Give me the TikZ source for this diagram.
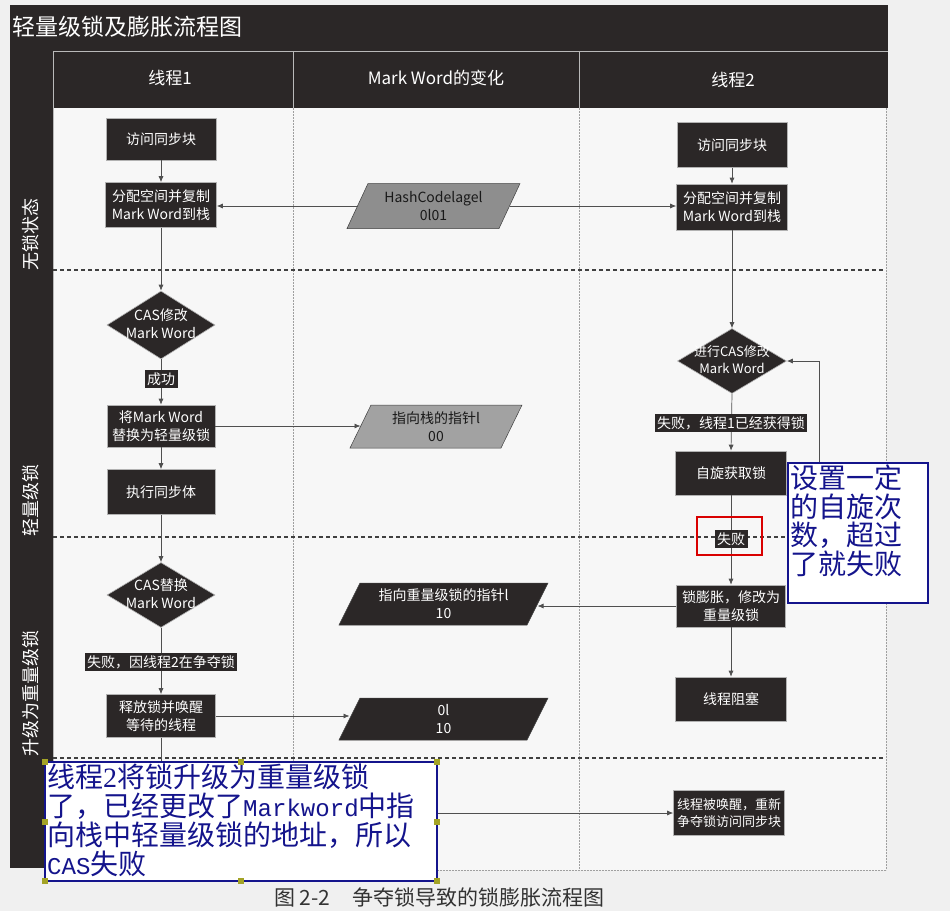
\documentclass[tikz,border=0pt]{standalone}
\usepackage{fontspec}
\setmainfont{Noto Sans CJK SC}
\newfontfamily\lmono[Scale=0.86]{Liberation Mono}
\newfontfamily\lserif{Liberation Serif}
\usetikzlibrary{arrows.meta,shapes.geometric,calc}
\definecolor{dk}{HTML}{2B2727}
\definecolor{pagebg}{HTML}{F0F0F0}
\definecolor{bodybg}{HTML}{F7F7F7}
\definecolor{ln}{HTML}{505050}
\definecolor{navy}{HTML}{14148C}
\definecolor{handle}{HTML}{A3A326}
\definecolor{pglight}{HTML}{8E8E8E}
\definecolor{pgmid}{HTML}{A2A2A2}
\definecolor{captxt}{HTML}{333333}
\tikzset{
  box/.style={draw=gray!60, line width=0.6pt, fill=dk, text=white, align=center,
    inner sep=0pt, font=\fontsize{14}{18}\selectfont},
  dia/.style={diamond, draw=gray!60, line width=0.6pt, fill=dk, inner sep=0pt},
  dtxt/.style={text=white, align=center, inner sep=0pt, font=\fontsize{14}{18}\selectfont},
  lbl/.style={fill=dk, text=white, inner sep=2.5pt, font=\fontsize{14}{16}\selectfont},
  pgt/.style={align=center, inner sep=0pt, font=\fontsize{14}{18}\selectfont},
  arr/.style={draw=ln, line width=0.7pt, -{Latex[length=6pt,width=5pt]}},
  hdr/.style={text=white, font=\fontsize{17}{20}\selectfont},
  strip/.style={text=white, rotate=90, font=\fontsize{18}{20}\selectfont},
  sep/.style={draw=black!75, line width=2pt, dash pattern=on 4pt off 3pt},
  colline/.style={draw=gray!75, line width=0.6pt, dash pattern=on 2pt off 1pt},
  note/.style={draw=navy, line width=1.6pt, fill=white},
  notetxt/.style={text=navy, align=left, inner sep=1pt, anchor=north west,
    font=\fontsize{28}{28.5}\selectfont},
}
\newcommand\mypgram[8]{%
  \fill[#6, draw=gray!50!black, line width=0.5pt] (#2-#4/2+21,#3-#5) -- (#2+#4/2,#3-#5) -- (#2+#4/2-21,#3+#5) -- (#2-#4/2,#3+#5) -- cycle;
  \node[pgt, text=#7] (#1) at (#2,#3) {#8};
  \coordinate (#1-w) at (#2-#4/2+10.5,#3);
  \coordinate (#1-e) at (#2+#4/2-10.5,#3);
}
\begin{document}
\begin{tikzpicture}[x=1pt, y=-1pt]
\useasboundingbox (0,0) rectangle (950,911);
\fill[pagebg] (0,0) rectangle (950,911);
% frame
\fill[dk] (10,5) rectangle (888,108);
\fill[dk] (10,108) rectangle (53,868);
\fill[bodybg] (53,108) rectangle (886,870);
\draw[gray!55, line width=0.6pt] (53,51) -- (888,51);
\draw[gray!55, line width=0.6pt] (53,51) -- (53,868);
\draw[gray!55, line width=0.6pt] (293,51) -- (293,108);
\draw[gray!55, line width=0.6pt] (579,51) -- (579,108);
\draw[colline] (293,108) -- (293,870);
\draw[colline] (579,108) -- (579,870);
\draw[colline] (886,108) -- (886,870);
\draw[colline] (53,870) -- (886,870);
% titles
\node[anchor=west, text=white, inner sep=0pt, font=\fontsize{23}{26}\selectfont] (title) at (12,27) {轻量级锁及膨胀流程图};
\node[hdr] (h1) at (170,78) {线程1};
\node[hdr] (h2) at (436,78) {Mark Word的变化};
\node[hdr] (h3) at (733,80) {线程2};
\node[strip] (s1) at (31,234) {无锁状态};
\node[strip] (s2) at (31,500) {轻量级锁};
\node[strip] (s3) at (31,693) {升级为重量级锁};
% separators
\draw[sep] (53,270) -- (884,270);
\draw[sep] (53,537) -- (884,537);
\draw[sep] (53,758) -- (884,758);
% thread 1
\node[box, minimum width=110pt, minimum height=42pt] (a1) at (161,139) {访问同步块};
\node[box, minimum width=111pt, minimum height=45pt] (a2) at (161,205) {分配空间并复制\\Mark Word到栈};
\node[dia, minimum width=108pt, minimum height=68pt] (d1) at (161,325) {};
\node[dtxt] (d1t) at (161,324) {CAS修改\\Mark Word};
\node[box, minimum width=108pt, minimum height=42pt] (a3) at (161,426) {将Mark Word\\替换为轻量级锁};
\node[box, minimum width=108pt, minimum height=45pt] (a4) at (161,492) {执行同步体};
\node[dia, minimum width=108pt, minimum height=65pt] (d2) at (161,595) {};
\node[dtxt] (d2t) at (161,594) {CAS替换\\Mark Word};
\node[box, minimum width=109pt, minimum height=43pt] (a5) at (161,716) {释放锁并唤醒\\等待的线程};
% mark word column
\mypgram{p1}{433.5}{206}{173}{22.5}{pglight}{black!90}{HashCodelagel\\0l01}
\mypgram{p2}{436}{426.5}{172}{21.5}{pgmid}{black!90}{指向栈的指针l\\00}
\mypgram{p3}{443.5}{604}{209}{21}{dk}{white}{指向重量级锁的指针l\\10}
\mypgram{p4}{443.5}{719}{209}{21}{dk}{white}{0l\\10}
% thread 2
\node[box, minimum width=110pt, minimum height=45pt] (b1) at (732,145) {访问同步块};
\node[box, minimum width=111pt, minimum height=46pt] (b2) at (732,207) {分配空间并复制\\Mark Word到栈};
\node[dia, minimum width=109pt, minimum height=65pt] (d3) at (732,361) {};
\node[dtxt, font=\fontsize{13}{17}\selectfont] (d3t) at (732,360) {进行CAS修改\\Mark Word};
\node[box, minimum width=111pt, minimum height=44pt] (b3) at (731,473) {自旋获取锁};
\node[box, minimum width=109pt, minimum height=42pt] (b4) at (731,606) {锁膨胀，修改为\\重量级锁};
\node[box, minimum width=111pt, minimum height=44pt] (b5) at (731,699) {线程阻塞};
\node[box, minimum width=111pt, minimum height=45pt, font=\fontsize{13}{17}\selectfont] (b6) at (729,813) {线程被唤醒，重新\\争夺锁访问同步块};
\coordinate (loopx) at (819,0);
% connectors thread 1
\draw[arr] (a1.south) -- (a2.north);
\draw[arr] (a2.south) -- (d1.north);
\draw[arr] (d1.south) -- (a3.north);
\draw[arr] (a3.south) -- (a4.north);
\draw[arr] (a4.south) -- (d2.north);
\draw[arr] (d2.south) -- (a5.north);
\draw[arr] (a5.south) |- (b6.west);
% connectors to/from mark word
\draw[arr] (p1-w) -- (p1-w -| a2.east);
\draw[arr] (p1-e) -- (p1-e -| b2.west);
\draw[arr] (a3.east) -- (a3.east -| p2-w);
\draw[arr] (a5.east) -- (a5.east -| p4-w);
\draw[arr] (b4.west) -- (b4.west -| p3-e);
% connectors thread 2
\draw[arr] (b1.south) -- (b2.north);
\draw[arr] (b2.south) -- (d3.north);
\draw[arr] (d3.south) -- (b3.north);
\draw[arr] (b3.south) -- (b4.north);
\draw[arr] (b4.south) -- (b5.north);
\draw[arr] (b3.east) -- (b3.east -| loopx) |- (d3.east);
% labels
\node[lbl] (l1) at (161,379) {成功};
\node[lbl] (l2) at (161,662) {失败，因线程2在争夺锁};
\node[lbl] (l3) at (731,423) {失败，线程1已经获得锁};
\node[lbl] (l4) at (731,539) {失败};
\draw[red!85!black, line width=1.2pt] (697,517) rectangle (762,555);
% annotations
\draw[note] (788,463) rectangle (928,603);
\node[notetxt] (n1) at (789,464) {设置一定\\的自旋次\\数，超过\\了就失败};
\draw[note] (45,762) rectangle (437,881);
\node[notetxt, font=\fontsize{28}{29}\selectfont] (n2) at (46,763) {线程{\lserif 2}将锁升级为重量级锁\\了，已经更改了{\lmono Markword}中指\\向栈中轻量级锁的地址，所以\\{\lmono CAS}失败};
\foreach \x/\y in {45/762,241/762,437/762,45/822,437/822,45/881,241/881,437/881}
  \fill[handle] (\x-3,\y-3) rectangle (\x+3,\y+3);
% caption
\node[anchor=west, inner sep=0pt, text=captxt, font=\fontsize{21}{24}\selectfont] (cap) at (274,897) {图 2-2\hspace{22pt}争夺锁导致的锁膨胀流程图};
\end{tikzpicture}
\end{document}
